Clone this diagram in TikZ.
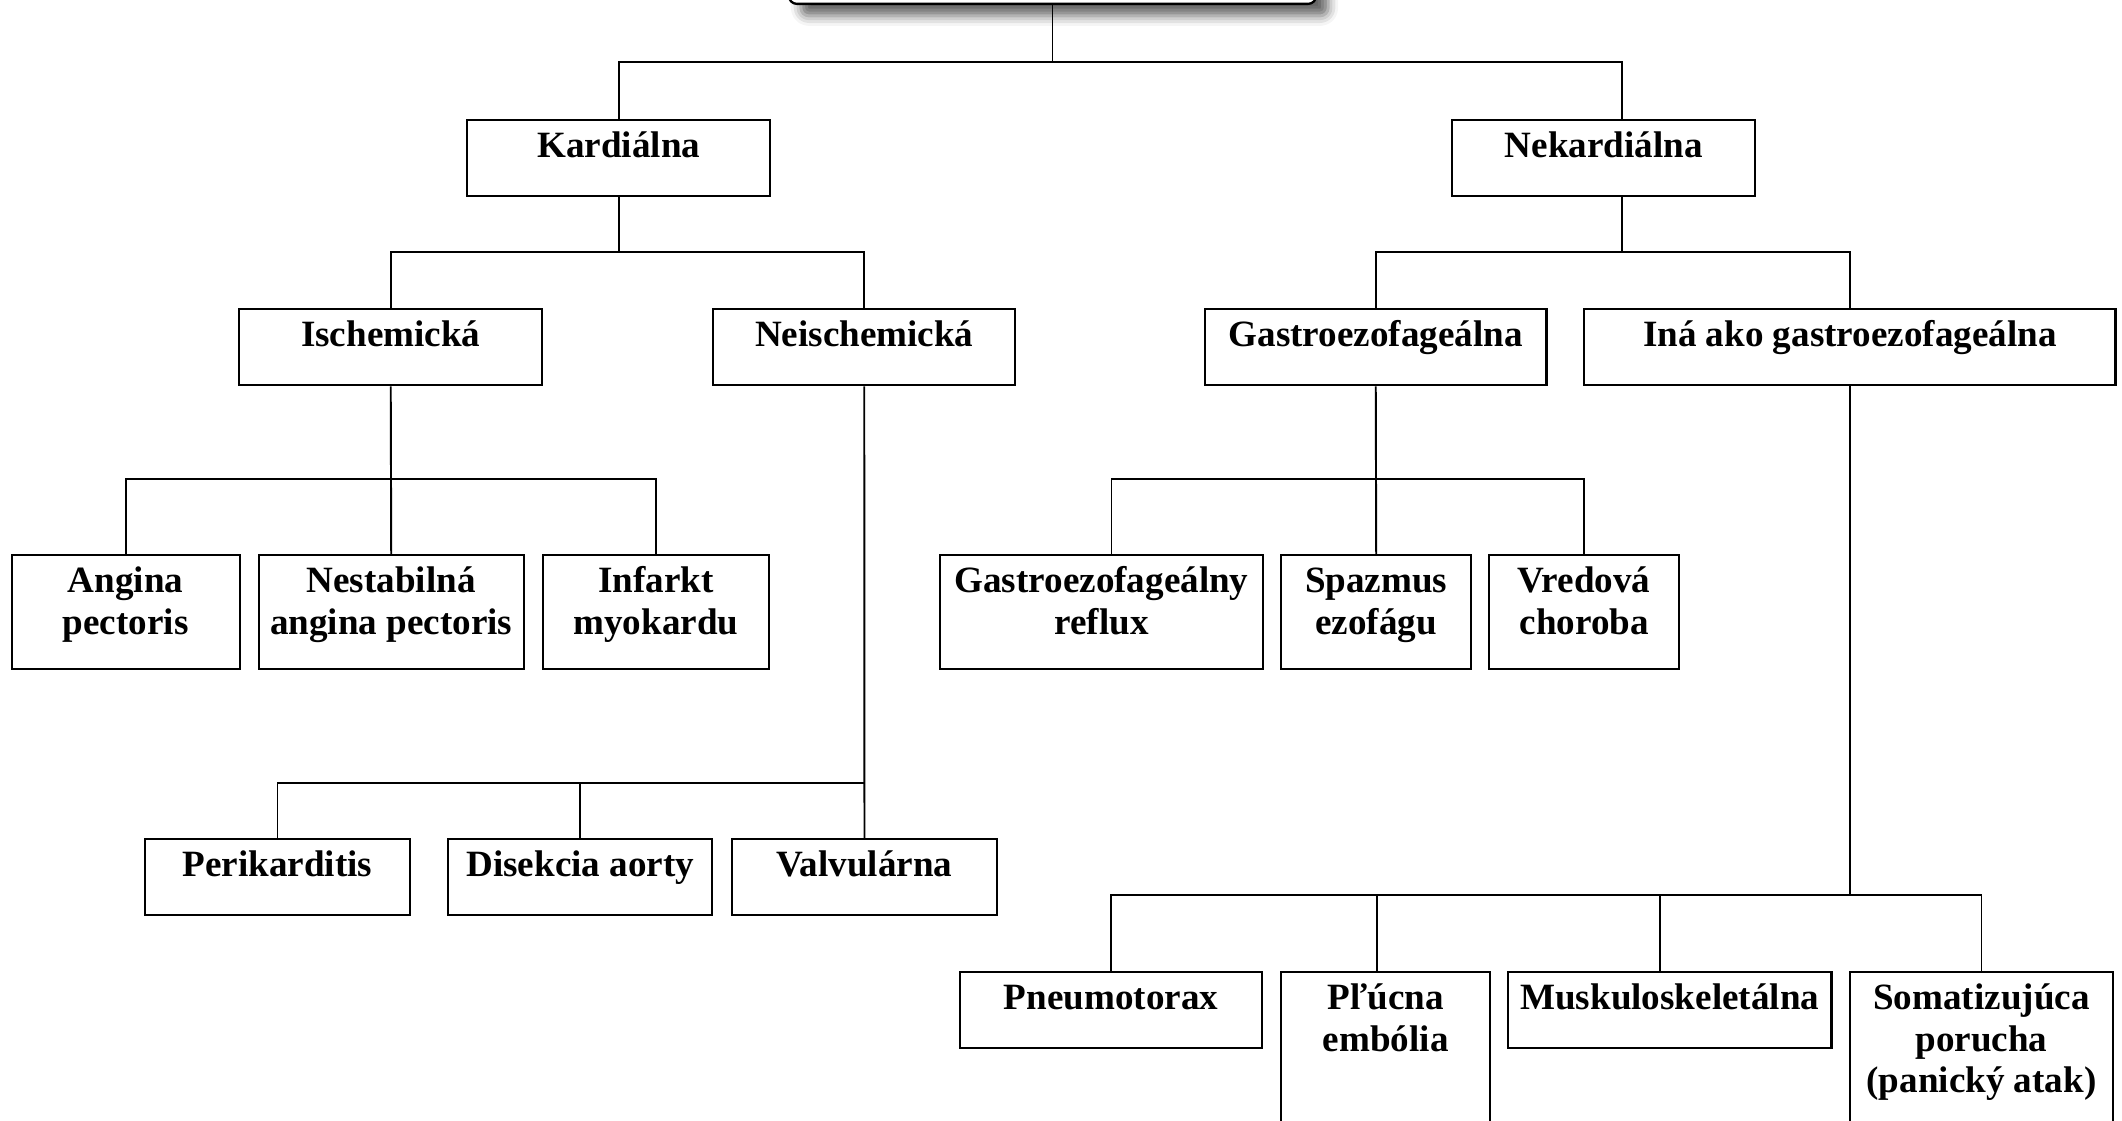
\documentclass[tikz,border=0pt]{standalone}
\usepackage{fontspec}
\setmainfont{Liberation Serif}
\usetikzlibrary{calc,shadows.blur}

\begin{document}
\begin{tikzpicture}[x=0.01cm,y=-0.01cm,
  box/.style={draw,line width=0.65pt,anchor=north west,align=center,inner sep=0pt,
    font=\fontsize{10.55pt}{0.413cm}\selectfont\bfseries},
  link/.style={line width=0.55pt}]
\useasboundingbox (0,0) rectangle (2122,1120);
\clip (0,0) rectangle (2122,1120);

\node[draw,line width=0.65pt,rounded corners=0.08cm,fill=white,
  blur shadow={shadow xshift=0.12cm,shadow yshift=-0.12cm,shadow blur radius=0.1cm,shadow opacity=60},
  minimum width=5.27cm,minimum height=1cm,anchor=south] (root) at (1052.5,5) {};

\node[box,minimum width=3.03cm,text depth=0.385cm] (kard) at (466,119) {\rule{0pt}{0.375cm}Kardiálna};
\node[box,minimum width=3.03cm,text depth=0.385cm] (nekard) at (1451,119) {\rule{0pt}{0.375cm}Nekardiálna};

\node[box,minimum width=3.03cm,text depth=0.385cm] (isch) at (238,308) {\rule{0pt}{0.375cm}Ischemická};
\node[box,minimum width=3.02cm,text depth=0.385cm] (neisch) at (712,308) {\rule{0pt}{0.375cm}Neischemická};
\node[box,minimum width=3.41cm,text depth=0.385cm] (gastro) at (1204,308) {\rule{0pt}{0.375cm}Gastroezofageálna};
\node[box,minimum width=5.31cm,text depth=0.385cm] (ina) at (1583,308) {\rule{0pt}{0.375cm}Iná ako gastroezofageálna};

\node[box,minimum width=2.28cm,text depth=0.347cm] (angina) at (10.5,554) {\rule{0pt}{0.375cm}Angina\\pectoris};
\node[box,minimum width=2.65cm,text depth=0.347cm] (nestab) at (257.5,554) {\rule{0pt}{0.375cm}Nestabilná\\angina pectoris};
\node[box,minimum width=2.265cm,text depth=0.347cm] (infarkt) at (541.5,554) {\rule{0pt}{0.375cm}Infarkt\\myokardu};
\node[box,minimum width=3.225cm,text depth=0.347cm] (ger) at (939,554) {\rule{0pt}{0.375cm}Gastroezofageálny\\reflux};
\node[box,minimum width=1.9cm,text depth=0.347cm] (spazmus) at (1280,554) {\rule{0pt}{0.375cm}Spazmus\\ezofágu};
\node[box,minimum width=1.9cm,text depth=0.347cm] (vred) at (1488,554) {\rule{0pt}{0.375cm}Vredová\\choroba};

\node[box,minimum width=2.655cm,text depth=0.385cm] (perik) at (143.5,838) {\rule{0pt}{0.375cm}Perikarditis};
\node[box,minimum width=2.64cm,text depth=0.385cm] (disek) at (447,838) {\rule{0pt}{0.375cm}Disekcia aorty};
\node[box,minimum width=2.645cm,text depth=0.385cm] (valv) at (731,838) {\rule{0pt}{0.375cm}Valvulárna};

\node[box,minimum width=3.025cm,text depth=0.385cm] (pneumo) at (958.5,971) {\rule{0pt}{0.375cm}Pneumotorax};
\node[box,minimum width=2.09cm,text depth=0.9cm] (plucna) at (1280,971) {\rule{0pt}{0.375cm}Pľúcna\\embólia};
\node[box,minimum width=3.23cm,text depth=0.385cm] (musk) at (1507,971) {\rule{0pt}{0.375cm}Muskuloskeletálna};
\node[box,minimum width=2.635cm,text depth=0.6cm] (somat) at (1848.5,971) {\rule{0pt}{0.375cm}Somatizujúca\\porucha\\(panický atak)};

\draw[link] (root.south) -- ++(0,57) coordinate (j0);
\draw[link] (kard.north) |- (j0) -| ($(nekard.north)+(18.5,0)$);

\draw[link] (kard.south) -- ++(0,55) coordinate (j1);
\draw[link] (isch.north) |- (j1) -| (neisch.north);

\draw[link] ($(nekard.south)+(18.5,0)$) -- ++(0,55) coordinate (j2);
\draw[link] (gastro.north) |- (j2) -| (ina.north);

\draw[link] (isch.south) -- (nestab.north);
\draw[link] (angina.north) |- ($(isch.south)+(0,93)$) -| (infarkt.north);

\draw[link] (neisch.south) -- (valv.north);
\draw[link] (perik.north) |- ($(neisch.south)+(0,397)$) coordinate (j4);
\draw[link] (disek.north) |- (j4);

\draw[link] (gastro.south) -- (spazmus.north);
\draw[link] ($(ger.north)+(10,0)$) |- ($(gastro.south)+(0,93)$) -| (vred.north);

\draw[link] (ina.south) -- ++(0,509) coordinate (j6);
\draw[link] (pneumo.north) |- (j6) -| (somat.north);
\draw[link] ($(plucna.north)+(-9,0)$) |- (j6);
\draw[link] ($(musk.north)+(-9.5,0)$) |- (j6);
\end{tikzpicture}
\end{document}
